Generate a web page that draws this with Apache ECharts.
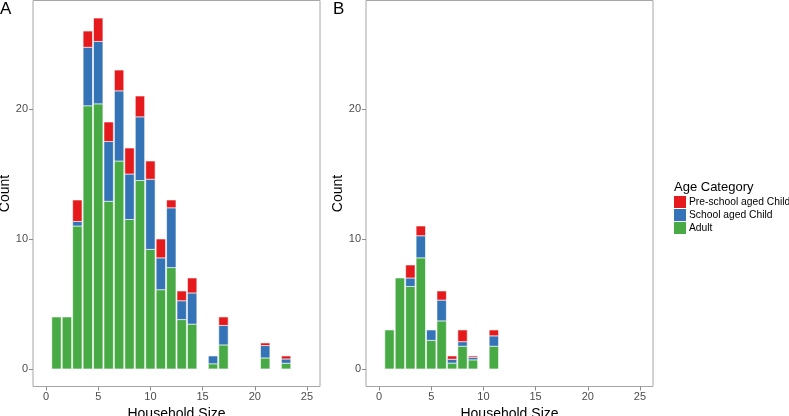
<!DOCTYPE html>
<html>
<head>
<meta charset="utf-8">
<script src="https://cdn.jsdelivr.net/npm/echarts@6/dist/echarts.min.js"></script>
<style>html,body{margin:0;padding:0;background:#fff}#c{width:789px;height:416px}</style>
</head>
<body>
<div id="c"></div>
<script>
// Panel A
var sizesA = [1,2,3,4,5,6,7,8,9,10,11,12,13,14,16,17,21,23];
var adultA = [4,4,11,20.25,20.4,12.9,16,11.5,14.5,9.2,6.1,7.8,3.8,3.45,0.4,1.85,0.85,0.44];
var schoolA = [0,0,0.35,4.5,4.8,4.6,5.4,3.5,4.9,5.4,2.45,4.6,1.45,2.4,0.6,1.5,0.95,0.33];
var preA = [0,0,1.65,1.25,1.8,1.5,1.6,2,1.6,1.4,1.45,0.6,0.75,1.15,0,0.65,0.2,0.23];
// Panel B
var sizesB = [1,2,3,4,5,6,7,8,9,11];
var adultB = [3,7,6.35,8.55,2.2,3.7,0.45,1.75,0.7,1.75];
var schoolB = [0,0,0.65,1.7,0.8,1.6,0.3,0.35,0.2,0.8];
var preB = [0,0,1,0.75,0,0.7,0.25,0.9,0.1,0.45];

var xTicks = [0,5,10,15,20,25];
var yTicks = [0,10,20];
var catNames = ['Pre-school aged Child','School aged Child','Adult'];
var colors = {'Pre-school aged Child':'#E41A1C','School aged Child':'#3473B5','Adult':'#47AA44'};

var FONT = 'Liberation Sans, Arial, sans-serif';
var BAR_W = 0.9;

function xAxisDef(idx){
  return {
    type:'value', gridIndex:idx, min:-1.25, max:26.25,
    name:'Household Size', nameLocation:'middle', nameGap:18,
    nameTextStyle:{fontFamily:FONT, fontSize:14, color:'#000'},
    axisLine:{show:false, onZero:false},
    axisTick:{show:true, length:4, customValues:xTicks, lineStyle:{color:'#8c8c8c', width:1}},
    axisLabel:{customValues:xTicks, margin:5, fontFamily:FONT, fontSize:11, color:'#4d4d4d'},
    splitLine:{show:false}
  };
}
function yAxisDef(idx){
  return {
    type:'value', gridIndex:idx, min:-1.35, max:28.35,
    name:'Count', nameLocation:'middle', nameGap:20.5,
    nameTextStyle:{fontFamily:FONT, fontSize:14, color:'#000'},
    axisLine:{show:false, onZero:false},
    axisTick:{show:true, length:4, customValues:yTicks, lineStyle:{color:'#8c8c8c', width:1}},
    axisLabel:{customValues:yTicks, margin:5, fontFamily:FONT, fontSize:11, color:'#4d4d4d'},
    splitLine:{show:false}
  };
}
// stacked segments: [x, bottom, top]
function segs(xs, lower, vals){
  return xs.map(function(x,i){
    var b = 0; lower.forEach(function(arr){ b += arr[i]; });
    return [x, b, b + vals[i]];
  });
}
function stackSeries(name, idx, data){
  var col = colors[name];
  return {
    type:'custom', name:name, xAxisIndex:idx, yAxisIndex:idx,
    data:data, encode:{x:0, y:[1,2]},
    itemStyle:{color:col},
    animation:false, silent:true,
    renderItem:function(params, api){
      var x = api.value(0), y0 = api.value(1), y1 = api.value(2);
      if (y1 - y0 <= 0) return null;
      var p0 = api.coord([x - BAR_W/2, y0]);
      var p1 = api.coord([x + BAR_W/2, y1]);
      return {
        type:'rect',
        shape:{x:p0[0], y:p1[1], width:p1[0]-p0[0], height:p0[1]-p1[1]},
        style:{fill:col, stroke:'#ffffff', lineWidth:0.6}
      };
    }
  };
}

var chart = echarts.init(document.getElementById('c'), null, {renderer:'canvas'});
chart.setOption({
  animation:false,
  grid:[
    {left:33, top:0.5, width:287, height:386, show:true, borderColor:'#a6a6a6', borderWidth:1, backgroundColor:'#fff', containLabel:false, outerBoundsMode:'none'},
    {left:366, top:0.5, width:287, height:386, show:true, borderColor:'#a6a6a6', borderWidth:1, backgroundColor:'#fff', containLabel:false, outerBoundsMode:'none'}
  ],
  xAxis:[xAxisDef(0), xAxisDef(1)],
  yAxis:[yAxisDef(0), yAxisDef(1)],
  legend:{
    data:catNames, orient:'vertical', left:674, top:196, padding:0,
    itemWidth:12, itemHeight:12, itemGap:1, icon:'rect', selectedMode:false,
    textStyle:{fontFamily:FONT, fontSize:10.3, color:'#000', padding:[0,0,0,-2], overflow:'none'}
  },
  graphic:[
    {type:'text', left:0, top:1, style:{text:'A', fontFamily:FONT, fontSize:17, fill:'#000'}},
    {type:'text', left:333, top:1, style:{text:'B', fontFamily:FONT, fontSize:17, fill:'#000'}},
    {type:'text', left:674, top:181, style:{text:'Age Category', fontFamily:FONT, fontSize:13, fill:'#000'}}
  ],
  series:[
    stackSeries('Adult',0,segs(sizesA,[],adultA)),
    stackSeries('School aged Child',0,segs(sizesA,[adultA],schoolA)),
    stackSeries('Pre-school aged Child',0,segs(sizesA,[adultA,schoolA],preA)),
    stackSeries('Adult',1,segs(sizesB,[],adultB)),
    stackSeries('School aged Child',1,segs(sizesB,[adultB],schoolB)),
    stackSeries('Pre-school aged Child',1,segs(sizesB,[adultB,schoolB],preB))
  ]
});
</script>
</body>
</html>
